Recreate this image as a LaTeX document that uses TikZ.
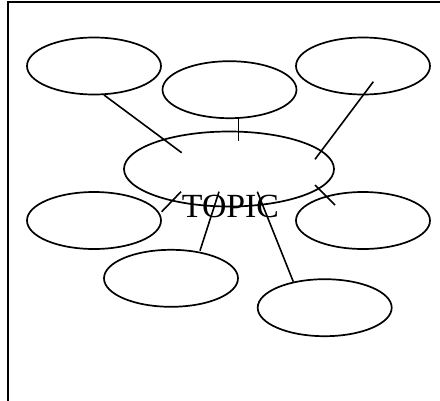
\documentclass[tikz,border=0pt]{standalone}
\usepackage{fontspec}
\setmainfont{Liberation Serif}
\usetikzlibrary{shapes.geometric}
\begin{document}
\begin{tikzpicture}[x=1pt,y=-1pt,
  bubble/.style={draw,line width=1.7pt,ellipse,minimum width=134pt,minimum height=57pt,inner sep=0pt},
  link/.style={line width=1.6pt}]
\useasboundingbox (0,0) rectangle (440,400);
\draw[line width=2pt] (7.5,401) -- (7.5,1.5) -- (441,1.5);
\node[bubble] (b1) at (94,66) {};
\node[bubble] (b2) at (229.5,89.7) {};
\node[bubble] (b3) at (363,66) {};
\node[bubble,minimum width=210pt,minimum height=75pt] (c) at (229,169) {};
\node[bubble] (b4) at (94,220.5) {};
\node[bubble] (b5) at (363,220.5) {};
\node[bubble] (b6) at (171,278.3) {};
\node[bubble] (b7) at (324.7,307.7) {};
\node[anchor=base,inner sep=0pt,font=\fontsize{33.8}{40}\selectfont] (topic) at (230.5,217.5) {TOPIC};
\coordinate (a1) at (104,95);   \coordinate (a2) at (181.7,152.7);
\coordinate (b1s) at (238.3,119.3); \coordinate (b1e) at (238.3,140.7);
\coordinate (c1) at (373.3,81.7); \coordinate (c2) at (315,159.3);
\coordinate (d1) at (315,185);  \coordinate (d2) at (335,205);
\coordinate (e1) at (161.7,211.7); \coordinate (e2) at (181,191.7);
\coordinate (f1) at (200,250.7); \coordinate (f2) at (219,191.7);
\coordinate (g1) at (293.3,281.7); \coordinate (g2) at (257.3,191.7);
\draw[link] (a1) -- (a2);
\draw[link] (b1s) -- (b1e);
\draw[link] (c1) -- (c2);
\draw[link] (d1) -- (d2);
\draw[link] (e1) -- (e2);
\draw[link] (f1) -- (f2);
\draw[link] (g1) -- (g2);
\end{tikzpicture}
\end{document}
